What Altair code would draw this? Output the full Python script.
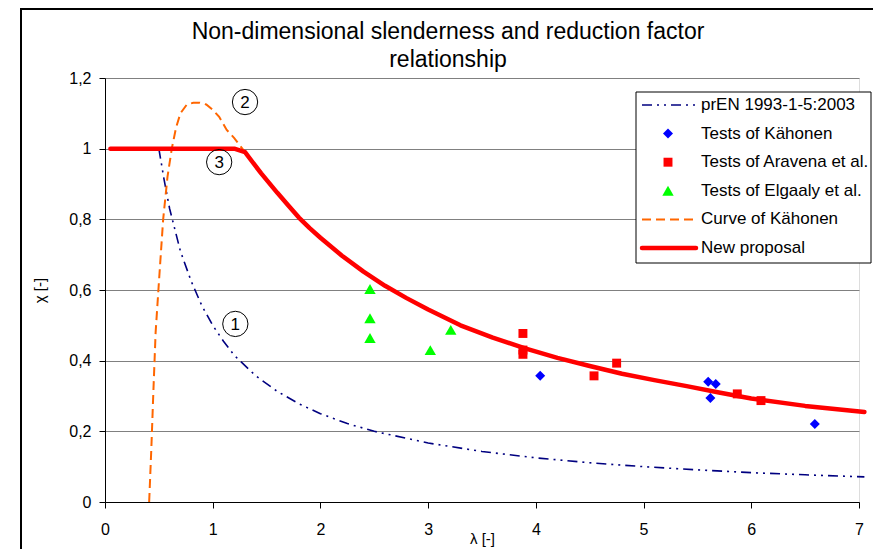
import altair as alt
import pandas as pd

# ---------------- data ----------------
pren_lam = [0.5, 0.55, 0.6, 0.7, 0.8, 0.9, 1.0, 1.1, 1.2, 1.4, 1.6, 1.8, 2.0, 2.25, 2.5,
            3.0, 3.5, 4.0, 4.5, 5.0, 5.5, 6.0, 6.5, 7.05]
pren_chi = [1.0, 0.91, 0.83, 0.71, 0.625, 0.555, 0.50, 0.455, 0.415, 0.357, 0.313, 0.278,
            0.25, 0.222, 0.20, 0.167, 0.143, 0.125, 0.111, 0.10, 0.091, 0.083, 0.077, 0.071]

kah_curve_lam = [0.41, 0.43, 0.45, 0.47, 0.50, 0.54, 0.58, 0.62, 0.66, 0.70, 0.76, 0.82,
                 0.88, 0.94, 1.00, 1.06, 1.13, 1.20, 1.30]
kah_curve_chi = [0.0, 0.15, 0.32, 0.48, 0.62, 0.80, 0.92, 1.0, 1.06, 1.10, 1.125, 1.13,
                 1.13, 1.125, 1.11, 1.09, 1.053, 1.03, 0.99]

new_lam = [0.05, 1.2, 1.3, 1.45, 1.6, 1.7, 1.8, 1.9, 2.0, 2.2, 2.4, 2.6, 2.8, 3.0, 3.3, 3.6,
           3.9, 4.2, 4.5, 4.8, 5.1, 5.4, 5.7, 6.0, 6.5, 7.05]
new_chi = [1.0, 1.0, 0.99, 0.93, 0.875, 0.84, 0.805, 0.775, 0.748, 0.697, 0.652, 0.612,
           0.577, 0.545, 0.50, 0.465, 0.435, 0.408, 0.385, 0.363, 0.345, 0.328, 0.31,
           0.293, 0.272, 0.255]

kah_test_lam = [4.04, 5.60, 5.67, 5.62, 6.59]
kah_test_chi = [0.357, 0.340, 0.334, 0.294, 0.221]

ara_lam = [3.88, 3.88, 3.88, 4.54, 4.75, 5.87, 6.09]
ara_chi = [0.477, 0.430, 0.418, 0.357, 0.393, 0.306, 0.287]

elg_lam = [2.46, 2.46, 2.46, 3.02, 3.21]
elg_chi = [0.603, 0.52, 0.464, 0.43, 0.487]

ann_lam = [1.21, 1.30, 1.06]
ann_chi = [0.504, 1.132, 0.962]
ann_txt = ["1", "2", "3"]

series_names = ["prEN 1993-1-5:2003", "Tests of Kähonen", "Tests of Aravena et al.",
                "Tests of Elgaaly et al.", "Curve of Kähonen", "New proposal"]

title_lines = ["Non-dimensional slenderness and reduction factor", "relationship"]

y_ticks = [0, 0.2, 0.4, 0.6, 0.8, 1, 1.2]
x_ticks = [0, 1, 2, 3, 4, 5, 6, 7]

FONT = "Liberation Sans"

# ---------------- encodings ----------------
X = alt.X("lam:Q",
          scale=alt.Scale(domain=[0, 7], nice=False, zero=False),
          axis=alt.Axis(values=x_ticks, title="λ [-]", grid=False,
                        domainColor="black", tickColor="black", tickSize=6,
                        labelFontSize=16, labelPadding=13, labelColor="black",
                        labelFont=FONT, labelFlush=False,
                        titleFont=FONT, titleFontSize=15, titleFontWeight="normal",
                        titleColor="black", titleX=377, titleY=41,
                        titleBaseline="alphabetic"))
Y = alt.Y("chi:Q",
          scale=alt.Scale(domain=[0, 1.2], nice=False),
          axis=alt.Axis(values=y_ticks, title="χ [-]",
                        labelExpr="replace(toString(datum.value), '.', ',')",
                        grid=True, gridColor="#808080", gridWidth=1,
                        domainColor="black", tickColor="black", tickSize=6,
                        labelFontSize=16, labelPadding=8, labelColor="black",
                        labelFont=FONT,
                        titleFont=FONT, titleFontSize=15, titleFontWeight="normal",
                        titleColor="black", titleAngle=270, titleX=-61, titleY=212,
                        titleBaseline="alphabetic", titleAlign="center"))


def df(lam, chi):
    return pd.DataFrame({"lam": lam, "chi": chi})


PREN_DASH = [10, 5, 2, 5, 2, 5]
KAH_DASH = [9, 5]

one = pd.DataFrame({"k": [0]})

# outer frame: only its left and top edges fall inside the picture
frame_left = alt.Chart(one).mark_rule(color="black", strokeWidth=2).encode(
    x=alt.value(-84), y=alt.value(-70), y2=alt.value(471))
frame_top = alt.Chart(one).mark_rule(color="black", strokeWidth=2).encode(
    x=alt.value(-85), x2=alt.value(768), y=alt.value(-69))

pren = alt.Chart(df(pren_lam, pren_chi)).mark_line(
    color="#000080", strokeWidth=1.6, strokeDash=PREN_DASH).encode(x=X, y=Y)
kah_curve = alt.Chart(df(kah_curve_lam, kah_curve_chi)).mark_line(
    color="#FF6600", strokeWidth=2, strokeDash=KAH_DASH).encode(x=X, y=Y)
new = alt.Chart(df(new_lam, new_chi)).mark_line(
    color="#FF0000", strokeWidth=4.5, strokeJoin="round", strokeCap="round").encode(x=X, y=Y)

kah_pts = alt.Chart(df(kah_test_lam, kah_test_chi)).mark_point(
    shape="diamond", filled=True, size=100, color="#0000FF", opacity=1).encode(x=X, y=Y)
ara_pts = alt.Chart(df(ara_lam, ara_chi)).mark_point(
    shape="square", filled=True, size=80, color="#FF0000", opacity=1).encode(x=X, y=Y)
elg_pts = alt.Chart(df(elg_lam, elg_chi)).mark_point(
    shape="triangle-up", filled=True, size=130, color="#00FF00", opacity=1).encode(x=X, y=Y)

ann_df = pd.DataFrame({"lam": ann_lam, "chi": ann_chi, "t": ann_txt})
ann_c = alt.Chart(ann_df).mark_point(
    shape="circle", size=640, filled=False, stroke="black", strokeWidth=1, opacity=1
).encode(x=X, y=Y)
ann_t = alt.Chart(ann_df).mark_text(
    fontSize=17, font=FONT, color="black", baseline="middle", align="center", dy=1
).encode(x=X, y=Y, text="t:N")

# ---------------- title (two centred lines) ----------------
title_layers = []
for line, ty in zip(title_lines, [-39, -11]):
    title_layers.append(alt.Chart(one).mark_text(
        align="center", baseline="alphabetic", fontSize=23, font=FONT, color="black").encode(
        x=alt.value(343), y=alt.value(ty), text=alt.value(line)))

# ---------------- legend (drawn manually) ----------------
LX0, LX1 = 531, 766
LY0, LY1 = 14, 185
row_y = [27, 55.6, 84.2, 112.8, 141.4, 170]
samp_x0, samp_x1, sym_x, txt_x = 537, 591, 563, 596

legend_layers = [
    alt.Chart(one).mark_rect(fill="white", stroke="black", strokeWidth=1).encode(
        x=alt.value(LX0), x2=alt.value(LX1), y=alt.value(LY0), y2=alt.value(LY1))
]
legend_layers.append(alt.Chart(one).mark_rule(
    color="#000080", strokeWidth=1.6, strokeDash=PREN_DASH).encode(
    x=alt.value(samp_x0), x2=alt.value(samp_x1), y=alt.value(row_y[0])))
legend_layers.append(alt.Chart(one).mark_point(
    shape="diamond", filled=True, size=100, color="#0000FF", opacity=1).encode(
    x=alt.value(sym_x), y=alt.value(row_y[1])))
legend_layers.append(alt.Chart(one).mark_point(
    shape="square", filled=True, size=80, color="#FF0000", opacity=1).encode(
    x=alt.value(sym_x), y=alt.value(row_y[2])))
legend_layers.append(alt.Chart(one).mark_point(
    shape="triangle-up", filled=True, size=130, color="#00FF00", opacity=1).encode(
    x=alt.value(sym_x), y=alt.value(row_y[3])))
legend_layers.append(alt.Chart(one).mark_rule(
    color="#FF6600", strokeWidth=2, strokeDash=KAH_DASH).encode(
    x=alt.value(samp_x0), x2=alt.value(samp_x1), y=alt.value(row_y[4])))
legend_layers.append(alt.Chart(one).mark_rule(
    color="#FF0000", strokeWidth=4.5, strokeCap="round").encode(
    x=alt.value(samp_x0), x2=alt.value(samp_x1), y=alt.value(row_y[5])))
for name, ry in zip(series_names, row_y):
    legend_layers.append(alt.Chart(one).mark_text(
        align="left", baseline="middle", fontSize=17, font=FONT, color="black").encode(
        x=alt.value(txt_x), y=alt.value(ry), text=alt.value(name)))

chart = alt.layer(
    frame_left, frame_top, pren, kah_curve, new, kah_pts, ara_pts, elg_pts, ann_c, ann_t,
    *title_layers, *legend_layers
).properties(
    width=754, height=424,
    autosize=alt.AutoSizeParams(type="none"),
    padding={"left": 97, "top": 70, "right": 14, "bottom": 47},
).configure_view(stroke="#808080", strokeWidth=1).configure(font=FONT)

chart.save("out.html", embed_options={"renderer": "svg", "actions": False})
